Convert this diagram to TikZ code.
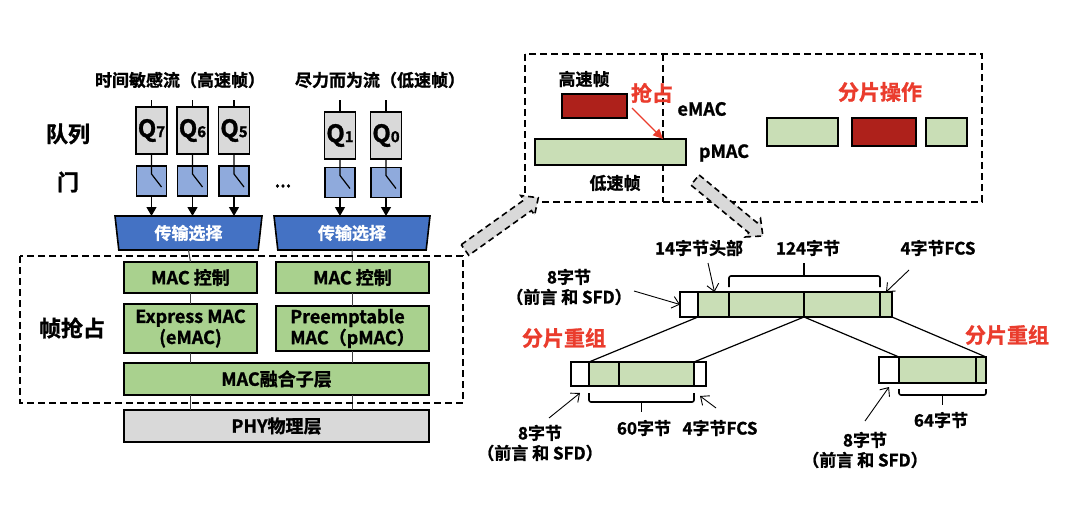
\documentclass[tikz,border=0pt]{standalone}
\usepackage{fontspec}
\setmainfont{Noto Sans CJK SC Bold}[FakeBold=1.2]
\newcommand*{\lblfont}{\fontsize{17}{20}\selectfont}
\newcommand*{\boxfont}{\fontsize{18}{21}\selectfont}
\newcommand*{\hdfont}{\fontsize{22}{26}\selectfont}
\newcommand*{\rdfont}{\fontsize{21}{25}\selectfont}
\newcommand*{\midtxt}{\fontsize{18}{22}\selectfont}
\newcommand*{\qfont}{\fontsize{24}{24}\selectfont}
\definecolor{qgray}{RGB}{217,217,217}
\definecolor{gblue}{RGB}{143,170,220}
\definecolor{tblue}{RGB}{68,114,196}
\definecolor{lgreen}{RGB}{169,209,142}
\definecolor{fgreen}{RGB}{201,222,182}
\definecolor{fred}{RGB}{174,33,27}
\definecolor{rtext}{RGB}{234,60,45}
\usepackage{tikz}
\usetikzlibrary{arrows.meta}
\usetikzlibrary{positioning}
\usetikzlibrary{calc}
\usetikzlibrary{shapes.geometric}
\tikzstyle{base}=[x=1pt, y=-1pt, inner sep=0pt, outer sep=0pt]
\tikzstyle{box}=[draw, line width=1.6]
\tikzstyle{queue}=[box, fill=qgray, minimum width=31, minimum height=47, font=\qfont]
\tikzstyle{gate}=[box, fill=gblue, minimum width=30, minimum height=30]
\tikzstyle{select}=[box, fill=tblue, trapezium, trapezium angle=76.8, trapezium stretches body, shape border rotate=180, minimum width=147, minimum height=34, text=white, font=\lblfont]
\tikzstyle{layer}=[box, fill=lgreen, font=\boxfont]
\tikzstyle{seg}=[box, fill=fgreen, minimum height=25]
\tikzstyle{hole}=[box, fill=white, minimum height=25]
\tikzstyle{txt}=[font=\lblfont, align=center]
\tikzstyle{redtxt}=[font=\rdfont, text=rtext]
\tikzstyle{wire}=[line width=1.2]
\tikzstyle{link}=[line width=1, black!75]
\tikzstyle{push}=[wire, -{Triangle[width=10, length=9]}]
\tikzstyle{zone}=[line width=1.6, dash pattern=on 7 off 4]
\tikzstyle{bigarrow}=[line width=1.6, dash pattern=on 6 off 4, fill=qgray]
\tikzstyle{pointer}=[line width=0.9, -{Straight Barb[length=7, width=12]}]
\tikzstyle{redarrow}=[line width=1.3, rtext, -{Triangle[width=9, length=10]}]
\tikzstyle{bracket}=[line width=1.6, rounded corners=2]

\begin{document}
\begin{tikzpicture}[base]
    \path [use as bounding box] (0,0) rectangle (1080,514);
    \node [txt] (t1) at (180,80) {时间敏感流（高速帧）};
    \node [txt] (t2) at (380,80) {尽力而为流（低速帧）};
    \node [font=\hdfont] (lq) at (68,134) {队列};
    \node [font=\hdfont] (lg) at (68,182) {门};
    \node [font=\hdfont] (lp) at (72,328) {帧抢占};
    \node [select] (tr1) at (188.5,233) {传输选择};
    \node [select, minimum width=156] (tr2) at (352,233) {传输选择};
    \foreach \n/\x/\y/\gy/\t in {7/151.5/130.5/181/tr1, 6/192.5/130.5/181/tr1, 5/234/130.5/181/tr1, 1/340/135.5/182.5/tr2, 0/386/135.5/182.5/tr2} {
        \coordinate (in\n) at (\x,100);
        \node [queue] (q\n) at (\x,\y) {Q{\fontsize{15}{15}\selectfont\n}};
        \node [gate] (g\n) at (\x,\gy) {};
        \draw [wire] (in\n) -- (q\n.north);
        \draw [wire] (q\n.south) -- ([yshift=-8]g\n.north) -- ++(10,13);
        \draw [push] (g\n.south) -- (g\n.south |- \t.north);
    }
    \node [txt] (dots) at (283,186) {...};

    \node [layer, minimum width=133, minimum height=31] (mc1) at (190.5,277.5) {MAC 控制};
    \node [layer, minimum width=153, minimum height=31] (mc2) at (352.5,277.5) {MAC 控制};
    \node [layer, minimum width=133, minimum height=49, align=center] (em) at (190.5,328.5) {Express MAC\\(eMAC)};
    \node [layer, minimum width=153, minimum height=45, align=left] (pm) at (352.5,328.5) {Preemptable\\MAC（pMAC）};
    \node [layer, minimum width=305, minimum height=32] (fu) at (276.5,379) {MAC融合子层};
    \node [box, fill=qgray, font=\boxfont, minimum width=305, minimum height=32] (phy) at (276.5,426) {PHY物理层};
    \foreach \a/\b in {tr1/mc1, tr2/mc2} \draw [link] (\a.south) -- (\b.north);
    \foreach \a/\b in {mc1/em, mc2/pm} {
        \draw [link] (\a.south) -- (\b.north);
        \draw [link] (\b.south) -- (fu.north -| \b);
        \draw [link] (fu.south -| \b) -- (phy.north -| \b);
    }
    \draw [zone] (20,256) rectangle (463,403);

    \draw [zone] (525,54) rectangle (982,202);
    \coordinate (dv) at (663,54);
    \coordinate (dvb) at (663,202);
    \draw [zone] (dv) -- (dvb);
    \node [txt] (hs) at (584,79) {高速帧};
    \node [box, fill=fred, minimum width=65, minimum height=24] (hf) at (594.5,106) {};
    \node [redtxt] (qz) at (652,93) {抢占};
    \node [font=\midtxt] (em2) at (702,109) {eMAC};
    \node [box, fill=fgreen, minimum width=151, minimum height=26] (lf) at (610.5,152) {};
    \node [font=\midtxt] (pm2) at (724,153) {pMAC};
    \node [txt] (ls) at (615,183) {低速帧};
    \node [redtxt] (fp) at (880,92) {分片操作};
    \node [box, fill=fgreen, minimum width=71, minimum height=28] (fa) at (802.5,132) {};
    \node [box, fill=fred, minimum width=64, minimum height=28] (fb) at (884,132) {};
    \node [box, fill=fgreen, minimum width=41, minimum height=28] (fc) at (946.5,132) {};
    \coordinate (qs) at (632,108);
    \draw [redarrow] (qs) -- (lf.north -| dv);

    \begin{scope}[shift={(465,250)}, rotate=35.5]
        \draw [bigarrow] (0,-6.5) -- (77,-6.5) -- (77,-12) -- (90,0) -- (77,12) -- (77,6.5) -- (0,6.5) -- cycle;
    \end{scope}
    \begin{scope}[shift={(695,180)}, rotate=-39.5]
        \draw [bigarrow] (0,-6.5) -- (75,-6.5) -- (75,-12) -- (88,0) -- (75,12) -- (75,6.5) -- (0,6.5) -- cycle;
    \end{scope}

    \node [hole, minimum width=18] (pre) at (689,304.5) {};
    \node [seg, minimum width=31, right=0pt of pre] (hdr) {};
    \node [seg, minimum width=75, right=0pt of hdr] (pl1) {};
    \node [seg, minimum width=76, right=0pt of pl1] (pl2) {};
    \node [seg, minimum width=12, right=0pt of pl2] (fcs) {};
    \node [hole, minimum width=18, minimum height=24] (f1pre) at (580,374) {};
    \node [seg, minimum width=30, minimum height=24, right=0pt of f1pre] (f1hdr) {};
    \node [seg, minimum width=75, minimum height=24, right=0pt of f1hdr] (f1pl) {};
    \node [hole, minimum width=12, minimum height=24, right=0pt of f1pl] (f1fcs) {};
    \node [hole, minimum width=20, minimum height=26] (f2pre) at (889,370) {};
    \node [seg, minimum width=77, minimum height=26, right=0pt of f2pre] (f2pl) {};
    \node [seg, minimum width=10, minimum height=26, right=0pt of f2pl] (f2fcs) {};
    \draw [wire] (hdr.south west) -- (f1hdr.north west);
    \draw [wire] (pl2.south west) -- (f1fcs.north west);
    \draw [wire] (pl2.south west) -- (f2pl.north west);
    \draw [wire] (fcs.south east) -- (f2fcs.north east);

    \draw [bracket] ([yshift=5]pl1.north west) -- ([yshift=16]pl1.north west) -- ([yshift=16]pl2.north east) -- ([yshift=5]pl2.north east);
    \draw [bracket] ([yshift=16]pl2.north west) -- ([yshift=29]pl2.north west);
    \coordinate (m1) at ($(f1hdr.south west)!.5!(f1pl.south east)$);
    \draw [bracket] ([yshift=-7]f1hdr.south west) -- ([yshift=-16]f1hdr.south west) -- ([yshift=-16]f1pl.south east) -- ([yshift=-7]f1pl.south east);
    \draw [bracket] ([yshift=-16]m1) -- ([yshift=-26]m1);
    \coordinate (m2) at ($(f2pl.south west)!.5!(f2fcs.south east)$);
    \draw [bracket] ([yshift=-6]f2pl.south west) -- ([yshift=-12]f2pl.south west) -- ([yshift=-12]f2fcs.south east) -- ([yshift=-6]f2fcs.south east);
    \draw [bracket] ([yshift=-12]m2) -- ([yshift=-22]m2);

    \node [txt] (l14) at (699,248) {14字节头部};
    \node [txt] (l124) at (808,248) {124字节};
    \node [txt] (lfcs) at (938,248) {4字节FCS};
    \node [txt] (l8a) at (569,287) {8字节\\（前言 和 SFD）};
    \node [redtxt] (r1) at (564,338) {分片重组};
    \node [redtxt] (r2) at (1007,335) {分片重组};
    \node [txt] (l60) at (644,428) {60字节};
    \node [txt] (lfcs1) at (720,428) {4字节FCS};
    \node [txt] (l8b) at (540,443) {8字节\\（前言 和 SFD）};
    \node [txt] (l64) at (941,420) {64字节};
    \node [txt] (l8c) at (865,450) {8字节\\（前言 和 SFD）};
    \coordinate (p1) at (708,263);
    \coordinate (p2) at (909,270);
    \coordinate (p3) at (634,291);
    \coordinate (p4) at (549,418);
    \coordinate (p5) at (716,408);
    \coordinate (p6) at (865,421);
    \draw [pointer] (p1) -- ([xshift=1]hdr.north);
    \draw [pointer] (p2) -- (fcs.north);
    \draw [pointer] (p3) -- (pre.west);
    \draw [pointer] (p4) -- ([yshift=-7]f1pre.south);
    \draw [pointer] (p5) -- ([yshift=-10]f1fcs.south);
    \draw [pointer] (p6) -- ([yshift=-4]f2pre.south);
\end{tikzpicture}
\end{document}
